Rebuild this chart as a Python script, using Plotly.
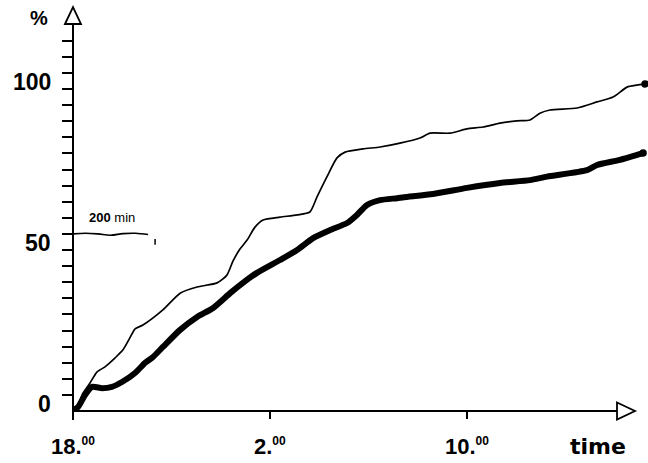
import plotly.graph_objects as go

# hours after 18:00 and cumulative percent
thin_h = [0, 0.20, 0.41, 0.69, 0.97, 1.30, 1.71, 2.03, 2.31, 2.52, 2.84, 3.65, 4.35, 5.04, 5.85,
          6.25, 6.50, 6.78, 7.07, 7.39, 7.72, 8.41, 9.10, 9.62, 9.91, 10.31, 10.72, 11.05, 11.78,
          12.47, 13.28, 14.09, 14.50, 15.31, 16.00, 16.65, 17.34, 18.03, 18.56, 18.96, 19.37,
          20.47, 21.28, 21.93, 22.50, 22.90, 23.23]
thin_p = [0, 1.9, 5.6, 8.7, 12.1, 13.7, 16.5, 19.0, 22.7, 25.5, 26.7, 31.4, 36.6, 38.5, 39.8,
          42.2, 46.6, 50.3, 53.1, 57.1, 59.3, 60.2, 60.9, 61.8, 66.5, 72.7, 78.6, 80.4, 81.4,
          82.0, 83.2, 84.8, 86.3, 86.3, 87.6, 88.2, 89.4, 90.1, 90.4, 92.5, 93.5,
          94.1, 96.0, 97.5, 100.6, 101.2, 101.6]

thick_h = [0, 0.20, 0.49, 0.77, 1.18, 1.58, 1.99, 2.52, 2.92, 3.25, 3.65, 4.35, 5.04, 5.69, 6.38,
           6.90, 7.47, 8.41, 9.10, 9.75, 10.44, 11.13, 11.53, 11.94, 12.47, 13.16, 13.44, 14.62,
           16.00, 17.34, 18.56, 19.25, 20.87, 21.28, 22.21, 23.15]
thick_p = [0.3, 1.2, 5.0, 7.5, 7.1, 7.5, 9.0, 11.8, 14.9, 16.8, 19.9, 25.2, 29.2, 32.0, 36.6,
           39.8, 42.9, 46.9, 50.0, 53.7, 56.2, 58.4, 60.9, 64.0, 65.5, 66.1, 66.4, 67.4,
           69.3, 70.8, 71.7, 72.8, 74.8, 76.4, 78.0, 80.1]

x_tick_hours = [0, 8, 16]
x_tick_main = ["18.", "2.", "10."]
y_label_vals = [0, 50, 100]
y_minor_ticks = list(range(5, 120, 5))
scale_minutes = 200
scale_level = 55.0
scale_wave = [0.0, 0.2, 0.0, -0.4, 0.1, 0.2, -0.2]

X_MAX = 23.35
Y_MAX = 126.1
PLOT_W = 575
PLOT_H = 406


def px(dx):  # horizontal pixels -> paper
    return dx / PLOT_W


def py(dy):  # vertical pixels -> paper
    return dy / PLOT_H


fig = go.Figure()

fig.add_trace(go.Scatter(x=thin_h, y=thin_p, mode="lines",
                         line=dict(color="black", width=1.7, shape="spline", smoothing=0.6),
                         cliponaxis=False, hoverinfo="skip"))
fig.add_trace(go.Scatter(x=[thin_h[-1]], y=[thin_p[-1]], mode="markers",
                         marker=dict(color="black", size=7.5), cliponaxis=False, hoverinfo="skip"))
fig.add_trace(go.Scatter(x=thick_h, y=thick_p, mode="lines",
                         line=dict(color="black", width=6, shape="spline", smoothing=0.6),
                         cliponaxis=False, hoverinfo="skip"))
fig.add_trace(go.Scatter(x=[thick_h[-1]], y=[thick_p[-1]], mode="markers",
                         marker=dict(color="black", size=7.5), cliponaxis=False, hoverinfo="skip"))

# scale bar (200 min)
scale_len = scale_minutes / 60.0
sb_x = [scale_len * 0.915 * i / (len(scale_wave) - 1) for i in range(len(scale_wave))]
sb_y = [scale_level + w for w in scale_wave]
fig.add_trace(go.Scatter(x=sb_x, y=sb_y, mode="lines",
                         line=dict(color="black", width=1.6, shape="spline"),
                         cliponaxis=False, hoverinfo="skip"))

shapes = []
# x axis with hollow arrow (paper coordinates so nothing is clipped)
xb = px(544)
xt = px(562)
ah = py(8.5)
shapes.append(dict(type="line", xref="paper", yref="paper", x0=0, x1=xb, y0=0, y1=0,
                   line=dict(color="black", width=2)))
shapes.append(dict(type="path", xref="paper", yref="paper",
                   path=f"M {xb},{ah} L {xt},0 L {xb},{-ah} Z",
                   line=dict(color="black", width=1.8), fillcolor="white"))
# y axis with hollow arrow
yb = py(387)
yt = py(404)
aw = px(8)
shapes.append(dict(type="line", xref="paper", yref="paper", x0=0, x1=0, y0=py(-9), y1=yb,
                   line=dict(color="black", width=2)))
shapes.append(dict(type="path", xref="paper", yref="paper",
                   path=f"M {-aw},{yb} L 0,{yt} L {aw},{yb} Z",
                   line=dict(color="black", width=1.8), fillcolor="white"))
# scale-bar end tick
shapes.append(dict(type="line", xref="x", yref="y", x0=scale_len, x1=scale_len,
                   y0=scale_level - 1.6, y1=scale_level - 3.4, line=dict(color="black", width=1.5)))

annotations = []
for v in y_label_vals:
    annotations.append(dict(x=0, y=v, xref="x", yref="y", text=f"<b>{v}</b>", showarrow=False,
                            xanchor="right", yanchor="middle", xshift=-20, yshift=7,
                            font=dict(family="Liberation Sans", size=23, color="black")))
annotations.append(dict(x=0, y=Y_MAX, xref="x", yref="y", text="<b>%</b>", showarrow=False,
                        xanchor="center", yanchor="middle", xshift=-34, yshift=-13,
                        font=dict(family="Liberation Sans", size=20, color="black")))
for h, t in zip(x_tick_hours, x_tick_main):
    annotations.append(dict(x=h, y=0, xref="x", yref="y",
                            text=f"<b>{t}<sup><span style='font-size:12px'>00</span></sup></b>",
                            showarrow=False, xanchor="center", yanchor="middle", yshift=-35,
                            font=dict(family="Liberation Sans", size=22, color="black")))
annotations.append(dict(x=X_MAX, y=0, xref="x", yref="y", text="<b>time</b>", showarrow=False,
                        xanchor="center", yanchor="middle", xshift=-50, yshift=-35,
                        font=dict(family="DejaVu Sans", size=22, color="black")))
annotations.append(dict(x=scale_len * 0.47, y=scale_level, xref="x", yref="y",
                        text=f"<b>{scale_minutes}</b> min", showarrow=False,
                        xanchor="center", yanchor="middle", yshift=16,
                        font=dict(family="Liberation Sans", size=13, color="black")))

fig.update_layout(
    width=648, height=463,
    margin=dict(l=73, r=0, t=5, b=52),
    paper_bgcolor="white", plot_bgcolor="white",
    showlegend=False,
    xaxis=dict(range=[0, X_MAX], showgrid=False, zeroline=False, showline=False,
               tickvals=x_tick_hours[1:], ticks="outside", ticklen=7, tickwidth=1.5,
               tickcolor="black", showticklabels=False, fixedrange=True),
    yaxis=dict(range=[0, Y_MAX], showgrid=False, zeroline=False, showline=False,
               tickvals=y_minor_ticks, ticks="outside", ticklen=10, tickwidth=1.5,
               tickcolor="black", showticklabels=False, fixedrange=True),
    shapes=shapes,
    annotations=annotations,
)

fig.write_html("out.html", config={"displayModeBar": False},
               post_script="document.body.style.margin='0';document.body.style.overflow='hidden';")
